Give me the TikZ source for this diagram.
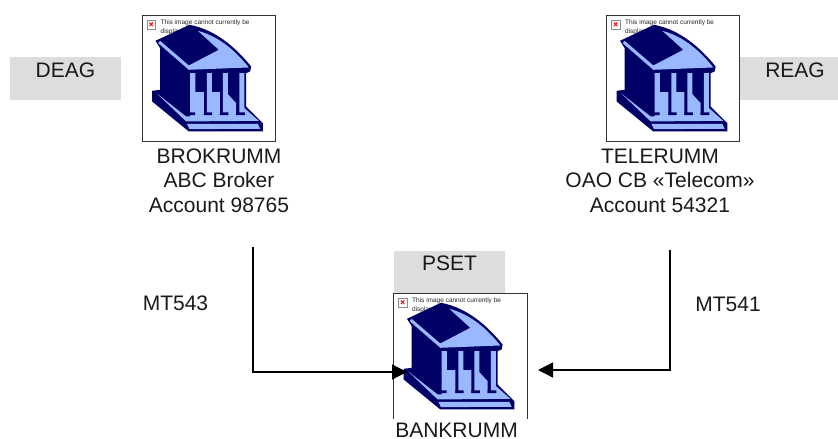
\documentclass[tikz,border=0pt]{standalone}
\usepackage{fontspec}
\setmainfont{Liberation Sans}
\usetikzlibrary{arrows.meta}
\definecolor{navy}{HTML}{000066}
\definecolor{skyb}{HTML}{99B8FF}
\definecolor{tagg}{HTML}{DDDDDD}
\tikzset{
  lbl/.style={font=\fontsize{21}{24.5}\selectfont,align=center,text=black!90,inner sep=0pt},
  tagbox/.style={lbl,fill=tagg,text height=20.5pt,text depth=22.5pt,minimum width=#1},
  imgbox/.style={fill=white,minimum width=133pt,minimum height=126pt,inner sep=0pt},
  msg/.style={line width=1.3pt,-{Triangle[length=15pt,width=15pt]}},
  bankicon/.pic={
    \begin{scope}[scale=1/3,shift={(-37,-30)}]
      \draw[black!45,fill=white,line width=.5pt] (52,45) rectangle (78,72);
      \draw[red,line width=1pt] (60,53) -- (70,64) (70,53) -- (60,64);
      \node[anchor=west,inner sep=0pt,font=\fontsize{6.5}{8.5}\selectfont,align=left,text=black!85] (note) at (93,68) {This image cannot currently be\\displayed.};
      \fill[navy] (78,108) -- (180,60) .. controls (260,75) and (320,130) .. (365,185) -- (362,200) -- (350,205) -- (350,305) -- (400,355) -- (400,380) -- (178,380) -- (68,290) -- (68,258) -- (92,255) -- (92,130) -- cycle;
      \fill[skyb] (205,78) .. controls (270,95) and (320,140) .. (358,188) -- (178,195) -- (86,115) -- (92,108) -- (178,182) -- (268,135) -- cycle;
      \fill[skyb] (82,266) -- (170,335) -- (182,335) -- (182,205) -- (198,205) -- (198,262) -- (223,262) -- (223,330) -- (232,330) -- (232,205) -- (247,205) -- (247,262) -- (271,262) -- (271,330) -- (280,330) -- (280,205) -- (295,205) -- (295,268) -- (320,295) -- (320,330) -- (330,330) -- (330,205) -- (345,205) -- (345,310) -- (388,348) -- (170,350) -- cycle;
      \fill[skyb] (172,357) -- (385,357) -- (392,372) -- (180,373) -- cycle;
      \fill[navy] (170,323) rectangle (197,331) (223,323) rectangle (248,331) (271,323) rectangle (297,331) (320,323) rectangle (346,331);
    \end{scope}
  }
}
\begin{document}
\begin{tikzpicture}[x=1pt,y=-1pt]
\useasboundingbox (0,0) rectangle (838,439);
\node[tagbox=111pt] (deag) at (65.5,78.5) {DEAG};
\node[tagbox=99pt] (reag) at (788.5,78.5) {\hspace*{13pt}REAG};
\node[tagbox=111pt,text height=19.5pt] (pset) at (449.5,272) {PSET};
\node[imgbox,draw=black!80] (brokbox) at (208.5,78) {};
\node[imgbox,draw=black!80] (telebox) at (673,78) {};
\node[imgbox] (bankbox) at (460,356) {};
\draw[black!80] (bankbox.south west) -- (bankbox.north west) -- (bankbox.north east) -- (bankbox.south east);
\pic at (brokbox.north west) {bankicon};
\pic at (telebox.north west) {bankicon};
\pic at (bankbox.north west) {bankicon};
\node[lbl] (brok) at (219,180.5) {BROKRUMM\\ABC Broker\\Account 98765};
\node[lbl] (tele) at (660,180.5) {TELERUMM\\OAO CB «Telecom»\\Account 54321};
\node[lbl] (bank) at (456.5,430) {BANKRUMM};
\node[lbl] (mta) at (175.5,303) {MT543};
\node[lbl] (mtb) at (728,304) {MT541};
\coordinate (broktail) at (253,247);
\coordinate (teletail) at (670,250);
\coordinate (bankleft) at (407,372);
\coordinate (bankright) at (538,370);
\draw[msg] (broktail) |- (bankleft);
\draw[msg] (teletail) |- (bankright);
\end{tikzpicture}
\end{document}
